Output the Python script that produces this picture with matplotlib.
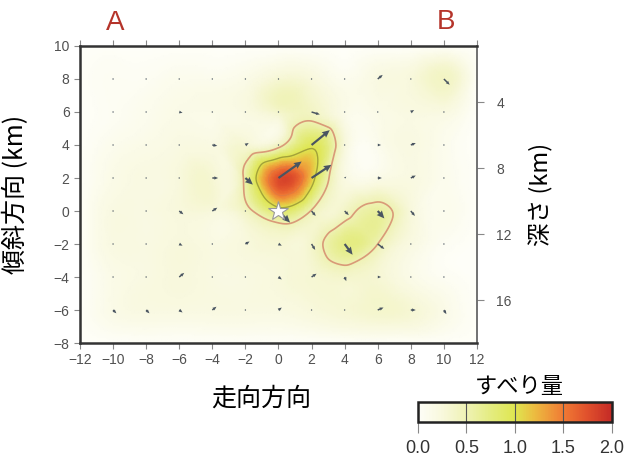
import numpy as np
import matplotlib
matplotlib.use("Agg")
import matplotlib.pyplot as plt
import matplotlib.tri as mtri
from matplotlib.colors import LinearSegmentedColormap

plt.rcParams['font.family'] = ['Liberation Sans', 'Noto Sans CJK JP', 'DejaVu Sans']
JP = ['Noto Sans CJK JP', 'DejaVu Sans']

# slip (m) on a 2 km grid, rows from dip=10 down to dip=-8
grid_x = [-12, -10, -8, -6, -4, -2, 0, 2, 4, 6, 8, 10, 12]
grid_y = [10, 8, 6, 4, 2, 0, -2, -4, -6, -8]
slip = [
    [0.00, 0.00, 0.00, 0.00, 0.00, 0.00, 0.00, 0.00, 0.00, 0.00, 0.00, 0.00, 0.00],
    [0.00, 0.05, 0.05, 0.10, 0.10, 0.15, 0.30, 0.25, 0.10, 0.20, 0.25, 0.40, 0.00],
    [0.00, 0.05, 0.10, 0.15, 0.15, 0.20, 0.35, 0.40, 0.15, 0.15, 0.20, 0.20, 0.00],
    [0.00, 0.10, 0.15, 0.20, 0.20, 0.30, 0.40, 0.95, 0.25, 0.10, 0.20, 0.10, 0.00],
    [0.00, 0.15, 0.20, 0.25, 0.30, 0.57, 1.76, 1.15, 0.20, 0.15, 0.20, 0.10, 0.00],
    [0.00, 0.20, 0.20, 0.25, 0.25, 0.40, 0.85, 0.48, 0.38, 0.60, 0.25, 0.10, 0.00],
    [0.00, 0.20, 0.20, 0.25, 0.20, 0.25, 0.30, 0.35, 0.72, 0.50, 0.20, 0.05, 0.00],
    [0.00, 0.15, 0.20, 0.25, 0.20, 0.20, 0.25, 0.30, 0.35, 0.30, 0.15, 0.05, 0.00],
    [0.00, 0.15, 0.20, 0.20, 0.20, 0.20, 0.20, 0.25, 0.30, 0.35, 0.30, 0.15, 0.00],
    [0.00, 0.00, 0.00, 0.00, 0.00, 0.00, 0.00, 0.00, 0.00, 0.00, 0.00, 0.00, 0.00],
]

# slip vectors at subfault centres (km on the plot)
vec_x = [-10, -8, -6, -4, -2, 0, 2, 4, 6, 8, 10]
vec_y = [8, 6, 4, 2, 0, -2, -4, -6]
vec_u = [
    [0.05, 0.05, 0.05, 0.05, 0.05, 0.05, 0.05, 0.05, 0.30, 0.05, 0.35],
    [0.05, 0.05, 0.20, 0.05, 0.05, 0.05, 0.50, 0.00, 0.05, 0.20, 0.05],
    [0.05, 0.05, 0.05, 0.30, 0.20, 0.05, 1.10, 0.05, 0.20, 0.30, 0.00],
    [0.05, 0.00, 0.05, 0.35, 0.45, 1.40, 1.20, 0.10, 0.25, 0.30, 0.00],
    [0.00, 0.00, 0.25, 0.30, 0.05, 0.70, 0.25, 0.25, 0.40, 0.25, 0.00],
    [0.05, 0.05, 0.20, 0.05, 0.25, 0.20, 0.22, 0.48, 0.40, 0.05, 0.00],
    [0.05, 0.05, 0.30, 0.05, 0.05, 0.20, 0.30, 0.10, 0.20, 0.00, 0.00],
    [0.20, 0.20, 0.20, 0.25, 0.05, 0.20, 0.05, 0.05, 0.35, 0.30, 0.15],
]
vec_v = [
    [0.00, 0.00, 0.00, 0.00, 0.00, 0.00, 0.00, 0.00, 0.25, 0.00, -0.35],
    [0.00, 0.00, -0.05, 0.00, 0.00, 0.00, -0.15, 0.00, 0.00, 0.12, 0.00],
    [0.00, 0.00, 0.00, -0.05, 0.12, 0.00, 0.90, 0.00, 0.00, 0.12, 0.00],
    [0.00, 0.00, 0.00, 0.00, -0.40, 1.00, 0.80, 0.08, 0.00, 0.15, 0.00],
    [0.00, 0.00, -0.20, 0.20, 0.00, -0.70, -0.30, -0.25, -0.45, -0.30, 0.00],
    [0.00, 0.00, -0.10, 0.00, 0.15, -0.10, -0.36, -0.65, -0.30, 0.00, 0.00],
    [0.00, 0.00, 0.25, 0.00, 0.00, -0.15, 0.20, -0.25, 0.00, 0.00, 0.00],
    [-0.20, -0.20, -0.15, 0.20, 0.00, 0.15, 0.00, 0.00, 0.15, 0.00, -0.25],
]

hypo = (0.0, 0.0)
contour_levels = [0.5, 1.0, 1.5]
contour_colors = ['#d99a78', '#a3a23a', '#e07a40']
cbar_ticks = [0.0, 0.5, 1.0, 1.5, 2.0]

cmap = LinearSegmentedColormap.from_list('slip', [
    (0.0, '#fefef8'), (0.125, '#f8f8dc'), (0.25, '#eff2b4'), (0.375, '#e4ec80'),
    (0.5, '#dfe650'), (0.6, '#ecbc40'), (0.75, '#f07a34'), (0.875, '#e0502c'),
    (1.0, '#c42a26')])

fig = plt.figure(figsize=(6.43, 4.59), dpi=100)
ax = fig.add_axes([0.1244, 0.2527, 0.6174, 0.6471])

gx, gy = np.meshgrid(grid_x, grid_y)
tri = mtri.Triangulation(gx.ravel(), gy.ravel())
refiner = mtri.UniformTriRefiner(tri)
tri_f, z_f = refiner.refine_field(np.array(slip).ravel(), subdiv=4)
z_f = np.clip(z_f, 0, 2.0)

ax.tripcolor(tri_f, z_f, cmap=cmap, vmin=0, vmax=2.0, shading='gouraud', rasterized=True)
ax.tricontour(tri_f, z_f, levels=contour_levels, colors=contour_colors,
              linewidths=[1.2, 1.0, 0.6])

vx, vy = np.meshgrid(vec_x, vec_y)
u = np.array(vec_u)
v = np.array(vec_v)
big = np.hypot(u, v) > 0.6
ax.quiver(vx[big], vy[big], u[big], v[big], angles='xy', scale_units='xy',
          scale=1, color='#4a5561', width=0.0055, headwidth=3.2, headlength=3.5,
          headaxislength=3.2, zorder=3)
ax.quiver(vx[~big], vy[~big], u[~big], v[~big], angles='xy', scale_units='xy',
          scale=1, color='#4a5561', width=0.0038, headwidth=2.2, headlength=2.6,
          headaxislength=2.4, minlength=1.0, zorder=3)
ax.plot(*hypo, marker='*', markersize=15, mfc='white', mec='#9a9a9a', mew=0.8, zorder=4)

ax.set_xlim(-12, 12)
ax.set_ylim(-8, 10)
ax.set_xticks(np.arange(-12, 13, 2))
ax.set_yticks(np.arange(-8, 11, 2))
ax.tick_params(direction='out', length=4, width=0.8, color='#888888',
               labelcolor='#505050', labelsize=10, top=True, labeltop=False, right=False)
for side in ['left', 'bottom', 'top']:
    ax.spines[side].set_color('#333333')
    ax.spines[side].set_linewidth(1.8)
ax.spines['right'].set_color('#666666')
ax.spines['right'].set_linewidth(1.3)

ax.set_xlabel('走向方向', fontsize=18, family=JP)
ax.xaxis.set_label_coords(0.456, -0.145)
ax.set_ylabel('傾斜方向 (km)', fontsize=18, family=JP)
ax.yaxis.set_label_coords(-0.128, 0.5)

depth = ax.secondary_yaxis('right', functions=(lambda y: 10.6 - y, lambda d: 10.6 - d))
depth.set_yticks([4, 8, 12, 16])
depth.tick_params(direction='out', length=5, width=0.8, color='#888888',
                  labelcolor='#505050', labelsize=10, pad=9)
depth.spines['right'].set_visible(False)
depth.set_ylabel('深さ (km)', fontsize=17, family=JP)
depth.yaxis.set_label_coords(1.131, 0.5, transform=ax.transAxes)

fig.text(0.179, 0.95, 'A', fontsize=20, color='#b5342a', ha='center', va='center')
fig.text(0.694, 0.952, 'B', fontsize=20, color='#b5342a', ha='center', va='center')

cax = fig.add_axes([0.650, 0.0806, 0.3017, 0.0436])
sm = plt.cm.ScalarMappable(cmap=cmap, norm=plt.Normalize(0, 2.0))
cb = fig.colorbar(sm, cax=cax, orientation='horizontal', ticks=cbar_ticks)
cb.outline.set_linewidth(1.8)
cb.outline.set_edgecolor('#222222')
for t in cbar_ticks[1:-1]:
    cax.axvline(t, color='#555555', lw=0.8)
cax.tick_params(direction='out', length=8, width=0.8, color='#888888',
                labelsize=13, labelcolor='#333333', pad=5)
cax.set_xticklabels(['%.1f' % t for t in cbar_ticks])
fig.text(0.808, 0.157, 'すべり量', fontsize=16, family=JP, ha='center', va='center')

fig.savefig('out.png', dpi=100)
